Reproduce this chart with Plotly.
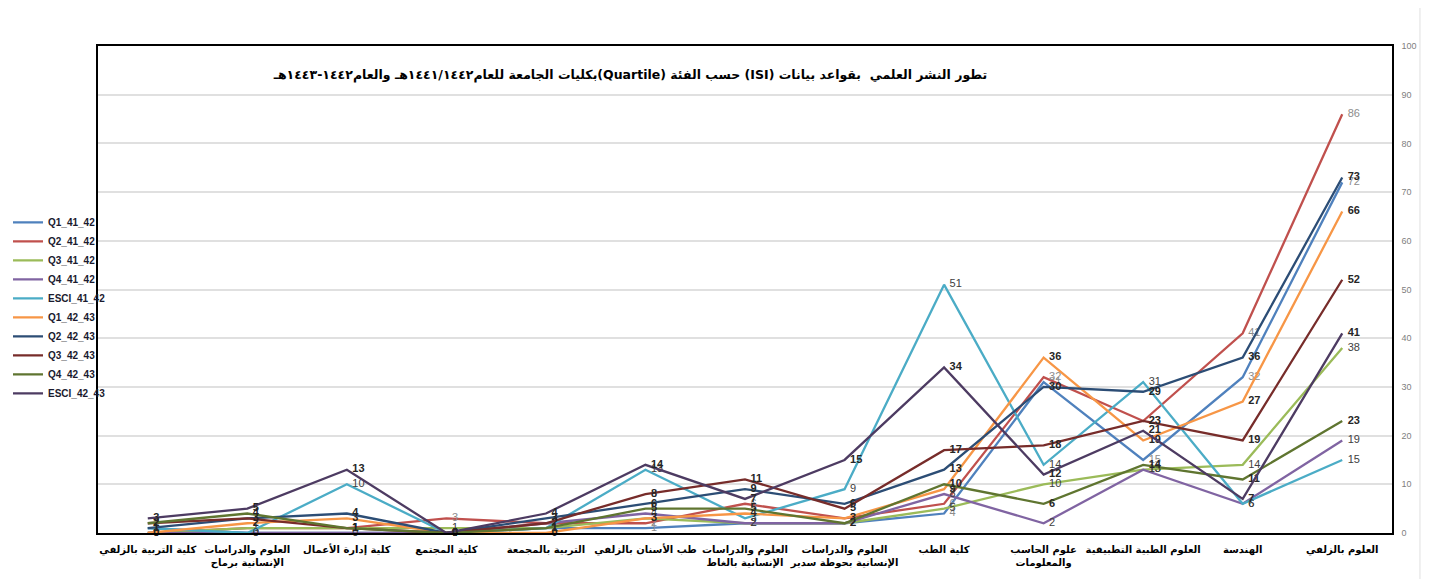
import plotly.graph_objects as go

# categories (colleges), left to right
categories = [
    "كلية التربية بالزلفي",
    "العلوم والدراسات<br>الإنسانية برماح",
    "كلية إدارة الأعمال",
    "كلية المجتمع",
    "التربية بالمجمعة",
    "طب الأسنان بالزلفي",
    "العلوم والدراسات<br>الإنسانية بالغاط",
    "العلوم والدراسات<br>الإنسانية بحوطة سدير",
    "كلية الطب",
    "علوم الحاسب<br>والمعلومات",
    "العلوم الطبية التطبيقية",
    "الهندسة",
    "العلوم بالزلفي",
]

q1_41_42 = [1, 0, 0, 0, 1, 1, 2, 2, 4, 31, 15, 32, 72]
q2_41_42 = [0, 1, 1, 3, 2, 2, 6, 3, 6, 32, 23, 41, 86]
q3_41_42 = [0, 1, 1, 1, 1, 3, 2, 2, 5, 10, 13, 14, 38]
q4_41_42 = [0, 0, 0, 0, 2, 4, 2, 2, 8, 2, 13, 6, 19]
esci_41_42 = [1, 0, 10, 0, 1, 13, 3, 9, 51, 14, 31, 6, 15]
q1_42_43 = [0, 2, 3, 0, 0, 3, 4, 3, 9, 36, 19, 27, 66]
q2_42_43 = [1, 3, 4, 0, 3, 6, 9, 6, 13, 30, 29, 36, 73]
q3_42_43 = [2, 3, 1, 0, 2, 8, 11, 5, 17, 18, 23, 19, 52]
q4_42_43 = [2, 4, 1, 0, 1, 5, 5, 2, 10, 6, 14, 11, 23]
esci_42_43 = [3, 5, 13, 0, 4, 14, 7, 15, 34, 12, 21, 7, 41]

y_ticks = [0, 10, 20, 30, 40, 50, 60, 70, 80, 90, 100]

# wrapped in RLE ... PDF so the mixed Arabic/Latin text reads right to left
title_text = ("\u202bتطور النشر العلمي  بقواعد بيانات (ISI) حسب الفئة (Quartile)"
              "بكليات الجامعة للعام١٤٤١/١٤٤٢هـ والعام١٤٤٢-١٤٤٣هـ\u202c")

# name, values, line colour, label colour, bold label
series = [
    ("Q1_41_42", q1_41_42, "#4F81BD", "#8c8c8c", False),
    ("Q2_41_42", q2_41_42, "#C0504D", "#8c8c8c", False),
    ("Q3_41_42", q3_41_42, "#9BBB59", "#404040", False),
    ("Q4_41_42", q4_41_42, "#8064A2", "#404040", False),
    ("ESCI_41_42", esci_41_42, "#4BACC6", "#404040", False),
    ("Q1_42_43", q1_42_43, "#F79646", "#262626", True),
    ("Q2_42_43", q2_42_43, "#2C4D75", "#262626", True),
    ("Q3_42_43", q3_42_43, "#772C2A", "#262626", True),
    ("Q4_42_43", q4_42_43, "#5F7530", "#262626", True),
    ("ESCI_42_43", esci_42_43, "#4D3B62", "#262626", True),
]

fig = go.Figure()
x_pos = list(range(len(categories)))

for name, vals, color, label_color, bold in series:
    fig.add_trace(go.Scatter(
        x=x_pos, y=vals, name=name,
        mode="lines+text",
        # en space pushes the value label a bit further right of the point
        text=["\u2002" + str(v) for v in vals],
        textposition="middle right",
        textfont=dict(family="Liberation Sans", size=11, color=label_color,
                      weight="bold" if bold else "normal"),
        line=dict(color=color, width=2.3),
        cliponaxis=False,
    ))

# page body has an 8px default margin, so the figure is 8px smaller each way
fig.update_layout(
    width=1421, height=571,
    margin=dict(l=90, r=37, t=38, b=46, autoexpand=False),
    paper_bgcolor="white", plot_bgcolor="white",
    title=dict(text=title_text, x=0.438, xanchor="center", xref="container",
               y=0.883, yanchor="middle", yref="container",
               font=dict(family="DejaVu Sans", size=12.5, color="black", weight="bold")),
    legend=dict(x=0.0, xref="container", xanchor="left",
                y=0.65, yref="container", yanchor="top",
                itemwidth=30, bgcolor="rgba(0,0,0,0)",
                font=dict(family="Liberation Sans", size=10, color="#1a1a2e", weight="bold")),
    showlegend=True,
)

fig.update_xaxes(
    range=[-0.5, len(categories) - 0.5],
    tickvals=x_pos, ticktext=categories, tickangle=0,
    tickfont=dict(family="DejaVu Sans", size=10, color="black", weight="bold"),
    showgrid=False, zeroline=False,
    showline=True, linecolor="black", linewidth=1.5, mirror=True,
    ticks="", ticklabelstandoff=6,
)

fig.update_yaxes(
    range=[0, 100], tickvals=y_ticks, side="right",
    tickfont=dict(family="Liberation Sans", size=9, color="#808080"),
    showgrid=True, gridcolor="#e0e0e0", gridwidth=1.5, zeroline=False,
    showline=True, linecolor="black", linewidth=1.5, mirror=True,
    ticks="", ticklabelstandoff=6,
)

# faint outer chart-area borders
for xp in [-0.073, 1.0216]:
    fig.add_shape(type="line", xref="paper", yref="paper",
                  x0=xp, x1=xp, y0=-0.1, y1=1.1,
                  line=dict(color="#e0e0e0", width=1))

fig.write_html("out.html")
